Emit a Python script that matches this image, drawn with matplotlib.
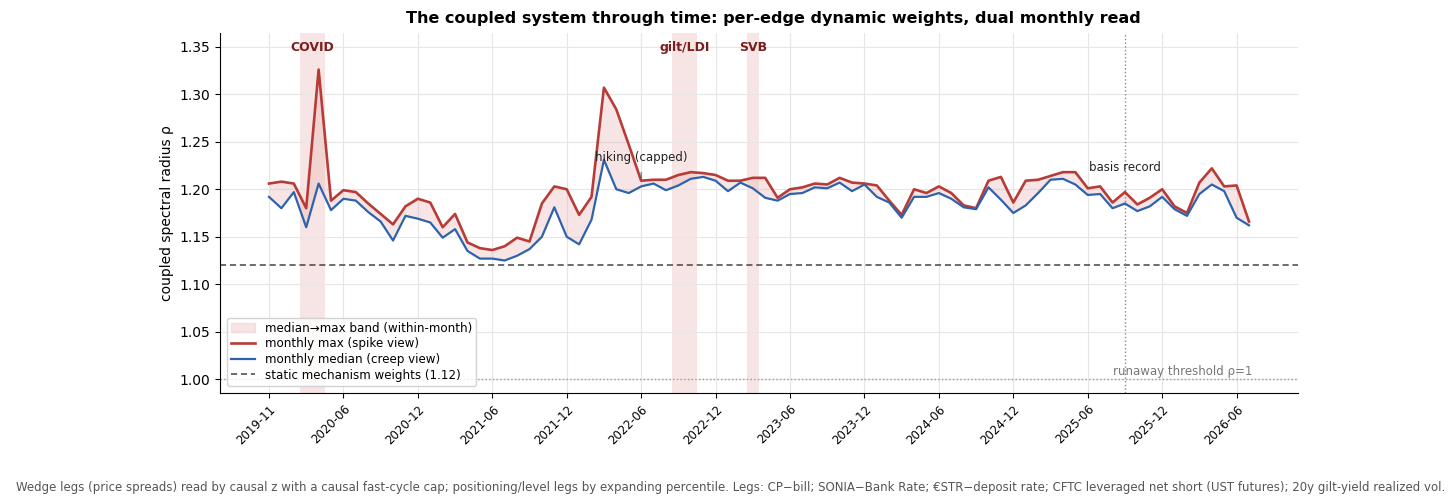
import numpy as np
import matplotlib
matplotlib.use("Agg")
import matplotlib.pyplot as plt
from matplotlib.patches import Patch
from matplotlib.lines import Line2D

# ---------------- data ----------------
monthly_max = [1.206, 1.208, 1.206, 1.180, 1.326, 1.188, 1.199, 1.197, 1.185, 1.174,
               1.163, 1.182, 1.190, 1.186, 1.160, 1.174, 1.144, 1.138, 1.136, 1.140,
               1.149, 1.145, 1.185, 1.203, 1.200, 1.173, 1.192, 1.307, 1.284, 1.247,
               1.209, 1.210, 1.210, 1.215, 1.218, 1.217, 1.215, 1.209, 1.209, 1.212,
               1.212, 1.191, 1.200, 1.202, 1.206, 1.205, 1.212, 1.207, 1.206, 1.204,
               1.188, 1.173, 1.200, 1.196, 1.203, 1.196, 1.183, 1.180, 1.209, 1.213,
               1.186, 1.209, 1.210, 1.214, 1.218, 1.218, 1.201, 1.203, 1.186, 1.197,
               1.184, 1.191, 1.200, 1.182, 1.175, 1.207, 1.222, 1.203, 1.204, 1.166]

monthly_median = [1.192, 1.180, 1.197, 1.160, 1.206, 1.178, 1.190, 1.188, 1.176, 1.166,
                  1.146, 1.172, 1.169, 1.165, 1.149, 1.158, 1.135, 1.127, 1.127, 1.125,
                  1.130, 1.137, 1.150, 1.181, 1.150, 1.142, 1.168, 1.231, 1.200, 1.196,
                  1.203, 1.206, 1.199, 1.204, 1.211, 1.213, 1.209, 1.198, 1.207, 1.201,
                  1.191, 1.188, 1.195, 1.196, 1.202, 1.201, 1.207, 1.198, 1.205, 1.192,
                  1.186, 1.170, 1.192, 1.192, 1.196, 1.190, 1.181, 1.179, 1.202, 1.189,
                  1.175, 1.183, 1.196, 1.210, 1.211, 1.205, 1.194, 1.195, 1.180, 1.185,
                  1.177, 1.182, 1.192, 1.179, 1.172, 1.195, 1.205, 1.198, 1.170, 1.162]

tick_labels = ['2019-11', '2020-06', '2020-12', '2021-06', '2021-12', '2022-06', '2022-12',
               '2023-06', '2023-12', '2024-06', '2024-12', '2025-06', '2025-12', '2026-06']
tick_step = 6

# event windows (in month-index units)
event_names = ['COVID', 'gilt/LDI', 'SVB']
event_start = [2.5, 32.5, 38.5]
event_end = [4.5, 34.5, 39.5]

static_rho = 1.12
runaway_rho = 1.00
hiking_idx = 30
basis_idx = 69

# ---------------- figure ----------------
RED = '#b83b37'
BLUE = '#2f62ad'
BAND = '#e8b5b3'
LABEL_RED = '#7a1d1d'

x = np.arange(len(monthly_max))
fig = plt.figure(figsize=(14.56, 5.03), dpi=100)
ax = fig.add_axes([220 / 1456, 110 / 503, 1078 / 1456, 360 / 503])

for s, e in zip(event_start, event_end):
    ax.axvspan(s, e, color=BAND, alpha=0.35, lw=0, zorder=0)

ax.fill_between(x, monthly_median, monthly_max, color=BAND, alpha=0.35, lw=0, zorder=1)
ax.plot(x, monthly_max, color=RED, lw=1.9, zorder=3)
ax.plot(x, monthly_median, color=BLUE, lw=1.6, zorder=3)

ax.axhline(static_rho, color='#444444', ls=(0, (4, 2.5)), lw=1.1, zorder=2)
ax.axhline(runaway_rho, color='#999999', ls=':', lw=1.0, zorder=2)
ax.axvline(basis_idx, color='#888888', ls=':', lw=1.0, zorder=2)

ax.set_ylim(0.9855, 1.3645)
ax.margins(x=0.05)

for name, s, e in zip(event_names, event_start, event_end):
    ax.text((s + e) / 2, 0.961, name, transform=ax.get_xaxis_transform(),
            ha='center', va='center', fontsize=9, fontweight='bold', color=LABEL_RED)

ax.annotate('hiking (capped)', xy=(hiking_idx, monthly_max[hiking_idx]),
            xytext=(hiking_idx, 1.2335), ha='center', va='center', fontsize=8.5, color='#222222',
            arrowprops=dict(arrowstyle='-', color='#555555', lw=0.7, shrinkA=4, shrinkB=2))
ax.text(basis_idx, 1.2232, 'basis record', ha='center', va='center', fontsize=8.5, color='#222222')
ax.text(len(x) - 0.7, runaway_rho + 0.001, 'runaway threshold ρ=1', ha='right', va='bottom',
        fontsize=8.5, color='#777777')

ax.set_xticks(np.arange(0, tick_step * len(tick_labels), tick_step))
ax.set_xticklabels(tick_labels, rotation=45, ha='right', rotation_mode='anchor', fontsize=8.5)
ax.set_yticks([1.00, 1.05, 1.10, 1.15, 1.20, 1.25, 1.30, 1.35])
ax.set_yticklabels(['1.00', '1.05', '1.10', '1.15', '1.20', '1.25', '1.30', '1.35'])
ax.tick_params(axis='y', labelsize=10)
ax.set_ylabel('coupled spectral radius ρ', fontsize=10)

ax.grid(True, color='#e6e6e6', lw=0.8)
ax.set_axisbelow(True)
for sp in ['top', 'right']:
    ax.spines[sp].set_visible(False)

handles = [Patch(facecolor=BAND, alpha=0.35, edgecolor=BAND),
           Line2D([], [], color=RED, lw=1.9),
           Line2D([], [], color=BLUE, lw=1.6),
           Line2D([], [], color='#444444', ls=(0, (4, 2.5)), lw=1.1)]
labels = ['median→max band (within-month)', 'monthly max (spike view)',
          'monthly median (creep view)', 'static mechanism weights (1.12)']
ax.legend(handles, labels, loc='lower left', fontsize=8.6, framealpha=0.85,
          borderaxespad=0.6, labelspacing=0.22, borderpad=0.35)

fig.text(773 / 1456, 1 - 18 / 503,
         'The coupled system through time: per-edge dynamic weights, dual monthly read',
         ha='center', va='center', fontsize=11.5, fontweight='bold')
fig.text(731 / 1456, 1 - 488 / 503,
         'Wedge legs (price spreads) read by causal z with a causal fast-cycle cap; positioning/level legs by '
         'expanding percentile. Legs: CP−bill; SONIA−Bank Rate; €STR−deposit rate; CFTC leveraged net short '
         '(UST futures); 20y gilt-yield realized vol.',
         ha='center', va='center', fontsize=8.5, color='#555555')

fig.savefig('out.png', dpi=100)
